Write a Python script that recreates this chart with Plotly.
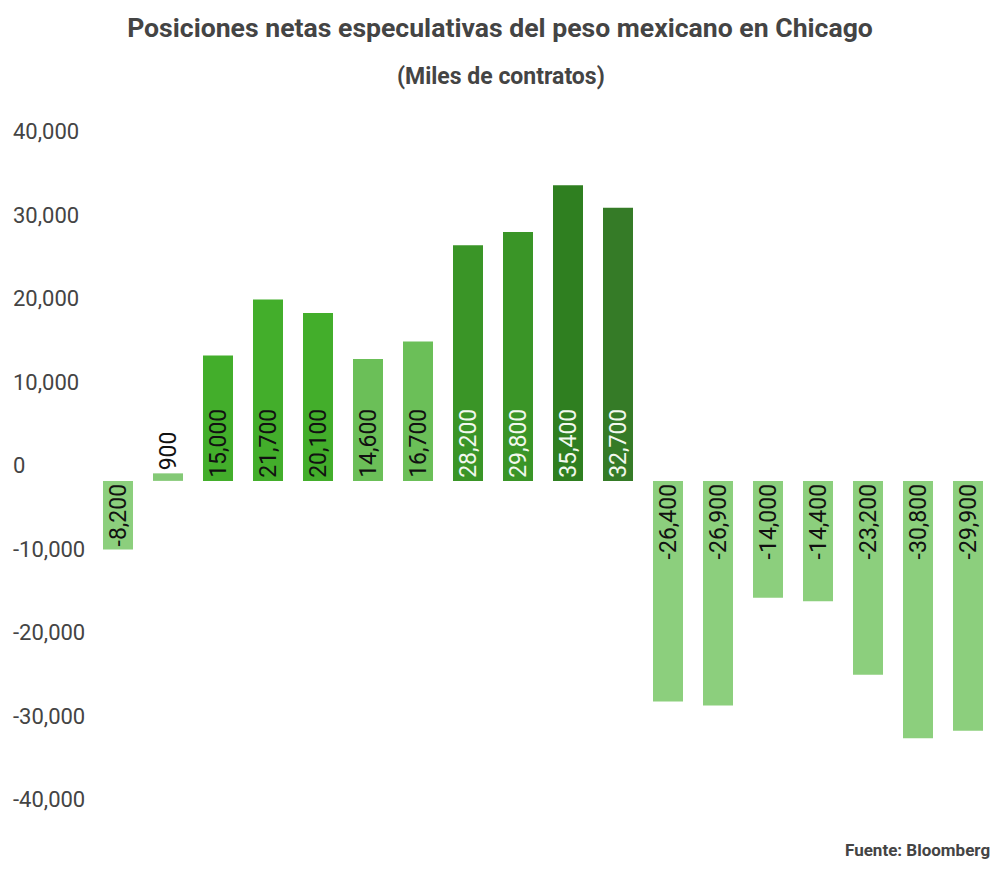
import plotly.graph_objects as go

# Posiciones netas especulativas (miles de contratos), en orden de aparición
positions = list(range(18))
net_positions = [
    -8200, 900, 15000, 21700, 20100, 14600, 16700, 28200, 29800,
    35400, 32700, -26400, -26900, -14000, -14400, -23200, -30800, -29900,
]
bar_colors = [
    "#8ccf7d", "#84c976", "#43ae2b", "#43ae2b", "#43ae2b", "#6bbf58", "#6bbf58",
    "#3a9527", "#3a9527", "#2f7f20", "#357b27",
    "#8ccf7d", "#8ccf7d", "#8ccf7d", "#8ccf7d", "#8ccf7d", "#8ccf7d", "#8ccf7d",
]
label_colors = [
    "#111", "#111", "#111", "#111", "#111", "#111", "#111",
    "#f2f8ee", "#f2f8ee", "#f2f8ee", "#f2f8ee",
    "#111", "#111", "#111", "#111", "#111", "#111", "#111",
]
y_ticks = [-40000, -30000, -20000, -10000, 0, 10000, 20000, 30000, 40000]
y_tick_labels = ["-40,000", "-30,000", "-20,000", "-10,000", "0",
                 "10,000", "20,000", "30,000", "40,000"]

FONT = "Roboto"
W, H = 984, 857
TOP, BOTTOM = 97, 50
PLOT_H = H - TOP - BOTTOM

text_pos = ["outside" if abs(v) < 3000 else "inside" for v in net_positions]

fig = go.Figure(
    go.Bar(
        x=positions,
        y=net_positions,
        marker=dict(color=bar_colors, line=dict(width=0)),
        width=0.6,
        text=[f"{v:,}" for v in net_positions],
        textposition=text_pos,
        insidetextanchor="start",
        textangle=-90,
        textfont=dict(family=FONT, size=23, color=label_colors),
        outsidetextfont=dict(family=FONT, size=23, color="#111"),
        cliponaxis=False,
        hoverinfo="skip",
    )
)

fig.update_layout(
    width=W,
    height=H,
    paper_bgcolor="white",
    plot_bgcolor="white",
    showlegend=False,
    margin=dict(l=2, r=0, t=TOP, b=BOTTOM),
    font=dict(family=FONT, color="#444"),
    uniformtext=dict(minsize=23, mode="show"),
    title=dict(
        text="<b>Posiciones netas especulativas del peso mexicano en Chicago</b>",
        x=0.5,
        xanchor="center",
        y=1 - 20 / H,
        yanchor="middle",
        font=dict(family=FONT, size=26.6, color="#444"),
    ),
    annotations=[
        dict(
            text="<b>(Miles de contratos)</b>",
            xref="paper", yref="paper",
            x=0.5, y=1 + (TOP - 68) / PLOT_H,
            xanchor="center", yanchor="middle",
            showarrow=False,
            font=dict(family=FONT, size=23, color="#444"),
        ),
        dict(
            text="<b>Fuente: Bloomberg</b>",
            xref="paper", yref="paper",
            x=1, y=-(842 - (H - BOTTOM)) / PLOT_H,
            xanchor="right", yanchor="middle",
            showarrow=False,
            font=dict(family=FONT, size=17, color="#444"),
        ),
    ],
)

fig.update_xaxes(
    range=[-2.16, 17.48],
    showticklabels=False,
    showgrid=False,
    zeroline=False,
    showline=False,
)
fig.update_yaxes(
    range=[-40000, 45000],
    tickvals=y_ticks,
    ticktext=y_tick_labels,
    ticklabelposition="inside top",
    tickfont=dict(family=FONT, size=22, color="#444"),
    showgrid=False,
    zeroline=False,
    showline=False,
)

fig.write_html("out.html")
